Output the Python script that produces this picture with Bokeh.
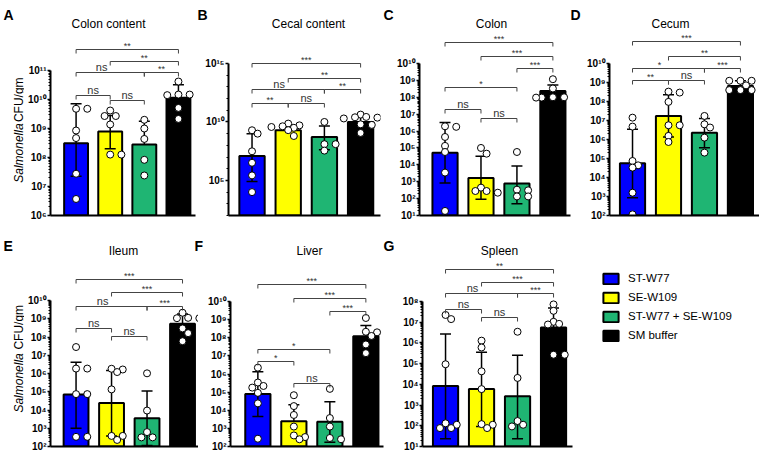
import math
from bokeh.plotting import figure
from bokeh.layouts import row, column
from bokeh.models import (Range1d, FixedTicker, CustomJSTickFormatter,
                          Legend, LegendItem, ColumnDataSource)
from bokeh.core.properties import value
from bokeh.embed import file_html
from bokeh.resources import INLINE

# ---------------- data (all CFU values as log10) ----------------
groups = ["ST-W77", "SE-W109", "ST-W77 + SE-W109", "SM buffer"]
colors = ["#0000ff", "#ffff00", "#1fb573", "#000000"]
letters = ["A", "B", "C", "D", "E", "F", "G"]
tissues = ["Colon content", "Cecal content", "Colon", "Cecum", "Ileum", "Liver", "Spleen"]
y_label_italic = "Salmonella"
y_label_rest = "CFU/gm"

# A  Colon content
colon_content_bar = [8.49, 8.90, 8.45, 10.06]
colon_content_upper = [9.85, 9.45, 9.25, 10.51]
colon_content_lower = [7.35, 8.30, None, None]
colon_content_points = [[9.68, 9.68, 8.93, 8.67, 7.44, 6.57],
                        [9.62, 9.43, 9.43, 9.14, 8.10, 8.10],
                        [9.30, 9.00, 8.64, 7.92, 7.38],
                        [10.62, 10.17, 10.17, 10.15, 9.71, 9.33]]
colon_content_tests = [(0, 1, "ns"), (1, 2, "ns"), (0, 2, "ns"), (2, 3, "**"), (1, 3, "**"), (0, 3, "**")]

# B  Cecal content
cecal_content_bar = [7.09, 9.29, 8.71, 10.00]
cecal_content_upper = [9.00, 9.71, 9.66, 10.49]
cecal_content_lower = [4.91, None, 7.63, None]
cecal_content_points = [[9.29, 9.00, 7.49, 6.51, 5.43, 4.00],
                        [9.86, 9.71, 9.63, 9.57, 9.50, 9.30, 8.80],
                        [10.00, 8.10, 8.10, 7.55],
                        [10.63, 10.43, 10.40, 10.37, 10.30, 9.80, 9.75, 9.06]]
cecal_content_tests = [(0, 1, "**"), (1, 2, "ns"), (0, 2, "ns"), (2, 3, "**"), (1, 3, "**"), (0, 3, "***")]

# C  Colon
colon_bar = [4.72, 3.22, 2.89, 8.37]
colon_upper = [6.50, 4.51, 3.93, 8.72]
colon_lower = [2.93, 1.96, 1.70, None]
colon_points = [[6.28, 6.25, 5.65, 5.12, 4.76, 3.54, 1.27],
                [5.00, 4.66, 2.65, 2.45, 2.45, 2.35],
                [4.76, 2.53, 2.49, 2.13, 2.13],
                [9.07, 8.52, 8.00, 8.00, 7.98, 7.98]]
colon_tests = [(0, 1, "ns"), (1, 2, "ns"), (0, 2, "*"), (2, 3, "***"), (1, 3, "***"), (0, 3, "***")]

# D  Cecum
cecum_bar = [4.75, 7.24, 6.36, 8.82]
cecum_upper = [6.54, 8.35, 7.10, 9.09]
cecum_lower = [2.93, 6.13, 5.57, None]
cecum_points = [[7.15, 6.68, 4.87, 4.64, 4.52, 3.20, 2.06],
                [8.52, 8.47, 7.98, 6.75, 6.75, 6.19, 5.87],
                [7.24, 6.80, 6.63, 6.10, 5.31],
                [9.09, 9.09, 9.09, 8.85, 8.60, 8.60, 8.60]]
cecum_tests = [(0, 1, "**"), (1, 2, "ns"), (0, 2, "*"), (2, 3, "***"), (1, 3, "**"), (0, 3, "***")]

# E  Ileum
ileum_bar = [4.85, 4.38, 3.55, 8.73]
ileum_upper = [6.61, 6.17, 5.04, 9.26]
ileum_lower = [3.00, 2.58, 2.05, None]
ileum_points = [[7.45, 6.27, 6.27, 4.87, 4.87, 2.53, 2.53],
                [6.26, 6.22, 6.08, 5.13, 2.58, 2.58, 2.36],
                [6.01, 3.97, 2.79, 2.50, 2.50],
                [9.33, 9.05, 9.03, 9.03, 8.47, 8.21, 7.77]]
ileum_tests = [(0, 1, "ns"), (1, 2, "ns"), (0, 2, "ns"), (2, 3, "***"), (1, 3, "***"), (0, 3, "***")]

# F  Liver
liver_bar = [4.90, 3.39, 3.36, 8.08]
liver_upper = [6.12, 4.30, 4.47, 8.68]
liver_lower = [3.65, None, 2.23, None]
liver_points = [[6.35, 5.53, 5.34, 5.25, 4.96, 4.38, 2.43],
                [4.83, 4.23, 3.74, 3.10, 2.61, 2.52, 2.40],
                [5.18, 3.57, 3.10, 2.47, 2.40],
                [9.09, 8.33, 8.30, 8.10, 7.63, 7.15]]
liver_tests = [(0, 1, "*"), (1, 2, "ns"), (0, 2, "*"), (2, 3, "***"), (1, 3, "***"), (0, 3, "***")]

# G  Spleen
spleen_bar = [3.92, 3.77, 3.43, 6.74]
spleen_upper = [6.43, 5.55, 5.40, 7.69]
spleen_lower = [1.38, 1.97, 1.38, None]
spleen_points = [[7.35, 7.15, 4.97, 2.12, 2.05, 1.89, 1.89],
                 [6.11, 5.78, 4.63, 3.77, 2.08, 2.05, 1.89],
                 [6.54, 4.31, 2.23, 2.05, 1.97],
                 [7.86, 7.55, 7.02, 6.92, 6.89, 5.43, 5.43]]
spleen_tests = [(0, 1, "ns"), (1, 2, "ns"), (0, 2, "ns"), (2, 3, "***"), (1, 3, "***"), (0, 3, "**")]

# ---------------- styling / layout ----------------
FONT = "Liberation Sans"
SUP_CODE = """
const sup = ['\u2070','\u00b9','\u00b2','\u00b3','\u2074','\u2075','\u2076','\u2077','\u2078','\u2079'];
const e = Math.round(Math.log10(tick));
return '10' + String(e).split('').map(c => sup[+c]).join('');
"""


def swarm(vals, ppd, ppx, ymin, d=7.0):
    placed, out = [], []
    for v in vals:
        ypx = (v - ymin) * ppd
        dx = 0.0
        for k in [0, 1, -1, 2, -2, 3, -3]:
            dx = k * d * 0.8
            if all((dx - px) ** 2 + (ypx - py) ** 2 >= (d * 0.85) ** 2 for px, py in placed):
                break
        placed.append((dx, ypx))
        out.append(dx / ppx)
    return out


def make_panel(bar, upper, lower, pts, tests, ymin, ymax, majors, minors, cfg, legend=False):
    W, H = cfg["w"], cfg["h"]
    bl, br, bt, bb = cfg["bl"], cfg["br"], cfg["bt"], cfg["bb"]
    x0, x1 = cfg["xr"]
    xaxis_end = cfg.get("xaxis_end", x1)
    head = cfg["head"]
    fw, fh = W - bl - br, H - bt - bb
    ppd = (fh - head) / (ymax - ymin)
    yend = ymax + head / ppd
    ppx = fw / (x1 - x0)

    p = figure(width=W, height=H, x_range=Range1d(x0, x1),
               y_range=Range1d(10 ** ymin, 10 ** yend), y_axis_type="log",
               output_backend="svg", toolbar_location=None,
               min_border_left=bl, min_border_right=br, min_border_top=bt, min_border_bottom=bb)
    p.title.visible = False
    p.outline_line_color = None
    p.grid.visible = False
    p.background_fill_color = "white"
    p.border_fill_color = "white"

    xa = p.xaxis[0]
    xa.ticker = FixedTicker(ticks=[])
    xa.bounds = (x0, xaxis_end)
    xa.axis_line_width = 2
    xa.major_tick_out = 0
    xa.major_tick_in = 0
    xa.minor_tick_out = 0
    xa.minor_tick_in = 0
    xa.major_label_standoff = 0
    xa.major_label_text_font_size = "0px"

    ax = p.yaxis[0]
    ax.ticker = FixedTicker(ticks=[10.0 ** n for n in majors], minor_ticks=minors)
    ax.formatter = CustomJSTickFormatter(code=SUP_CODE)
    ax.bounds = (10 ** ymin, 10 ** ymax)
    ax.axis_line_width = 2
    ax.major_tick_line_width = 1.5
    ax.major_tick_out = 3
    ax.major_tick_in = 0
    ax.minor_tick_out = 2
    ax.minor_tick_in = 0
    ax.minor_tick_line_width = 1
    ax.major_label_standoff = 1
    ax.major_label_text_font = FONT
    ax.major_label_text_font_style = "bold"
    ax.major_label_text_font_size = "10px"
    ax.major_label_text_color = "black"

    xs = list(range(len(groups)))
    src = ColumnDataSource(dict(x=xs, top=[10 ** v for v in bar], bottom=[10 ** ymin] * len(xs),
                                color=colors, group=groups))
    r = p.vbar(x="x", top="top", bottom="bottom", width=0.7, fill_color="color",
               line_color="black", line_width=2, source=src)

    lo = [10 ** (l if l is not None else b) for l, b in zip(lower, bar)]
    up = [10 ** u for u in upper]
    p.segment(x0=xs, y0=lo, x1=xs, y1=up, line_color="black", line_width=1.5)
    p.scatter(x=xs, y=up, marker="dash", size=11, line_color="black", line_width=1.5)
    lx = [i for i, l in zip(xs, lower) if l is not None]
    ly = [10 ** l for l in lower if l is not None]
    p.scatter(x=lx, y=ly, marker="dash", size=11, line_color="black", line_width=1.5)

    for i, vals in enumerate(pts):
        offs = swarm(vals, ppd, ppx, ymin)
        p.scatter(x=[i + o for o in offs], y=[10 ** v for v in vals], size=7,
                  fill_color="white", line_color="black", line_width=1)

    # significance brackets
    drop = 4.0 / ppd
    bx, by = [], []
    ns_x, ns_y, st_x, st_y, st_t = [], [], [], [], []
    offsets = cfg["brackets"]
    for (i, j, lab), off in zip(tests, offsets):
        yl = ymax + off / ppd
        bx.append([i, i, j, j])
        by.append([10 ** (yl - drop), 10 ** yl, 10 ** yl, 10 ** (yl - drop)])
        mid = (i + j) / 2
        # move the label aside when a higher bracket drops onto its centre
        for (i2, j2, _), off2 in zip(tests, offsets):
            if mid in (i2, j2) and 0 < off2 - off < 16:
                mid -= 0.25
                break
        if lab == "ns":
            ns_x.append(mid); ns_y.append(10 ** yl)
        else:
            st_x.append(mid); st_y.append(10 ** yl); st_t.append(lab)
    p.multi_line(bx, by, line_color="#444444", line_width=1)
    p.text(x=ns_x, y=ns_y, text=["ns"] * len(ns_x), text_font=value(FONT), text_font_size="11px",
           text_align="center", text_baseline="bottom", y_offset=0, text_color="#333333")
    p.text(x=st_x, y=st_y, text=st_t, text_font=value(FONT), text_font_size="9px",
           text_align="center", text_baseline="bottom", y_offset=1, text_color="#333333")

    if legend:
        items = [LegendItem(label=value(g), renderers=[r], index=i) for i, g in enumerate(groups)]
        lg = Legend(items=items, location=cfg["legend_at"], glyph_width=19, glyph_height=13,
                    label_height=14, spacing=5, padding=0, margin=0, label_standoff=8,
                    border_line_color=None, background_fill_alpha=0,
                    label_text_font=FONT, label_text_font_size="11.5px", label_text_color="black")
        p.add_layout(lg, "center")
    return p


def minor_all(lo, hi):
    return [k * 10.0 ** n for n in range(lo, hi) for k in range(2, 10)]


def text_fig(w, h):
    f = figure(width=w, height=h, x_range=Range1d(0, w), y_range=Range1d(0, h), title=None,
               x_axis_location=None, y_axis_location=None, output_backend="svg",
               toolbar_location=None, min_border=0, min_border_left=0, min_border_right=0,
               min_border_top=0, min_border_bottom=0)
    f.outline_line_color = None
    f.grid.visible = False
    f.background_fill_color = "white"
    f.border_fill_color = "white"
    return f


def header(idx, w, h, letter_x, letter_y, title_x, title_y):
    f = text_fig(w, h)
    f.text(x=letter_x, y=[letter_y] * len(idx), text=[letters[k] for k in idx],
           text_font=value(FONT), text_font_size="14px", text_font_style="bold",
           text_align="left", text_baseline="alphabetic", text_color="black")
    f.text(x=title_x, y=[title_y] * len(idx), text=[tissues[k] for k in idx],
           text_font=value(FONT), text_font_size="12px",
           text_align="center", text_baseline="alphabetic", text_color="black")
    return f


def ylabel_fig(w, h, x, start_y):
    f = text_fig(w, h)
    f.text(x=[x], y=[start_y], text=[y_label_italic], angle=math.pi / 2,
           text_font=value(FONT), text_font_size="12px", text_font_style="italic",
           text_align="left", text_baseline="middle", text_color="black")
    f.text(x=[x], y=[start_y + 65], text=[y_label_rest], angle=math.pi / 2,
           text_font=value(FONT), text_font_size="12px",
           text_align="left", text_baseline="middle", text_color="black")
    return f


top = dict(h=198, bt=0, bb=13)
bot = dict(h=194, bt=0, bb=6)

cfgA = dict(top, w=174, bl=26, br=3, xr=(-0.75, 3.5), head=40, brackets=[-25, -30, -2, -2, 9, 21])
cfgB = dict(top, w=191, bl=30, br=9, xr=(-0.65, 3.55), head=33, brackets=[-40, -40, -26, -26, -15, 0])
cfgC = dict(top, w=190, bl=30, br=9, xr=(-0.71, 3.49), head=33, brackets=[-46, -55, -24, -5, 7, 21])
cfgD = dict(top, w=180, bl=30, br=0, xr=(-0.64, 3.53), head=33, brackets=[-17, -17, -5, -5, 7, 22])
cfgE = dict(bot, w=174, bl=26, br=0, xr=(-0.72, 3.45), head=42, brackets=[-28, -36, -6, -6, 8, 21])
cfgF = dict(bot, w=191, bl=32, br=6, xr=(-0.76, 3.49), head=43, brackets=[-60, -82, -48, -10, 3, 17])
cfgG = dict(bot, w=370, bl=33, br=0, xr=(-0.64, -0.64 + 337 / 36.0), xaxis_end=3.53, head=43,
            brackets=[-8, -16, 8, 8, 19, 32], legend_at=(179, 104))

pA = make_panel(colon_content_bar, colon_content_upper, colon_content_lower, colon_content_points,
                colon_content_tests, 6, 11, range(6, 12), minor_all(6, 11), cfgA)
pB = make_panel(cecal_content_bar, cecal_content_upper, cecal_content_lower, cecal_content_points,
                cecal_content_tests, 2, 15, [5, 10, 15], [10.0 ** n for n in range(2, 16) if n % 5], cfgB)
pC = make_panel(colon_bar, colon_upper, colon_lower, colon_points, colon_tests,
                1, 10, range(1, 11), minor_all(1, 10), cfgC)
pD = make_panel(cecum_bar, cecum_upper, cecum_lower, cecum_points, cecum_tests,
                2, 10, range(2, 11), minor_all(2, 10), cfgD)
pE = make_panel(ileum_bar, ileum_upper, ileum_lower, ileum_points, ileum_tests,
                2, 10, range(2, 11), minor_all(2, 10), cfgE)
pF = make_panel(liver_bar, liver_upper, liver_lower, liver_points, liver_tests,
                2, 10, range(2, 11), minor_all(2, 10), cfgF)
pG = make_panel(spleen_bar, spleen_upper, spleen_lower, spleen_points, spleen_tests,
                1, 8, range(1, 9), minor_all(1, 8), cfgG, legend=True)

# panel letters and tissue names (pixel positions inside the header strips)
head_top = header([0, 1, 2, 3], 759, 30, [3, 197, 383, 570], 16, [108, 308, 491, 670], 7)
head_bot = header([4, 5, 6], 759, 30, [3, 194, 383], 13, [123, 309, 499], 8)

layout = column(head_top,
                row(ylabel_fig(24, 198, 18, 35), pA, pB, pC, pD),
                head_bot,
                row(ylabel_fig(24, 194, 18, 35), pE, pF, pG))
open("out.html", "w").write(file_html(layout, INLINE))
